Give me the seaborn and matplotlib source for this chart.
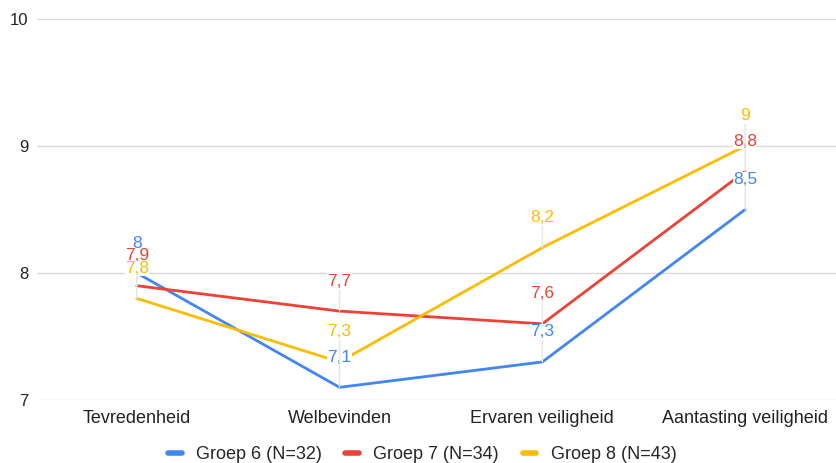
import pandas as pd
import matplotlib.pyplot as plt
import seaborn as sns

# Data
categories = ["Tevredenheid", "Welbevinden", "Ervaren veiligheid", "Aantasting veiligheid"]
groups = ["Groep 6 (N=32)", "Groep 7 (N=34)", "Groep 8 (N=43)"]
groep6 = [8.0, 7.1, 7.3, 8.5]
groep7 = [7.9, 7.7, 7.6, 8.8]
groep8 = [7.8, 7.3, 8.2, 9.0]
colors = ["#4285F4", "#EA4335", "#FBBC04"]

df = pd.DataFrame({
    "Categorie": categories * 3,
    "Score": groep6 + groep7 + groep8,
    "Groep": [g for g in groups for _ in categories],
})

sns.set_theme(style="white")
plt.rcParams['font.family'] = ['Liberation Sans', 'DejaVu Sans']

fig = plt.figure(figsize=(8.36, 4.63), dpi=100)
ax = fig.add_axes([0.044, 0.136, 0.956, 0.823])

sns.lineplot(data=df, x="Categorie", y="Score", hue="Groep", palette=colors,
             sort=False, linewidth=2, ax=ax, legend=False)

# data labels with small leader lines, like the original
for g, vals, c in zip(groups, [groep6, groep7, groep8], colors):
    for i, v in enumerate(vals):
        lbl = f"{v:g}".replace(".", ",")
        ax.annotate(lbl, xy=(i, v), xytext=(0, 30), textcoords="offset pixels",
                    ha="center", va="center", color=c, fontsize=12.5,
                    bbox=dict(facecolor="white", edgecolor="none", pad=0.1),
                    arrowprops=dict(arrowstyle="-", color="#e6e6e6", lw=1,
                                    shrinkA=0, shrinkB=0),
                    zorder=5)

ax.set_ylim(7, 10)
ax.set_yticks([7, 8, 9, 10])
ax.set_xlim(-0.493, 3.448)
ax.grid(axis="y", color="#d9d9d9", linewidth=1)
ax.set_axisbelow(True)
for s in ax.spines.values():
    s.set_visible(False)
ax.set_xlabel("")
ax.set_ylabel("")
ax.tick_params(axis="x", labelsize=13, colors="#222222", pad=7, length=0)
ax.tick_params(axis="y", labelsize=12, colors="#222222", pad=6, length=0)

handles = [plt.Line2D([0], [0], color=c, lw=4) for c in colors]
fig.legend(handles, groups, loc="center", bbox_to_anchor=(0.505, 0.018),
           ncol=3, frameon=False, fontsize=13, handlelength=0.75,
           columnspacing=1.3, handletextpad=0.8)

fig.savefig("out.png", dpi=100)
